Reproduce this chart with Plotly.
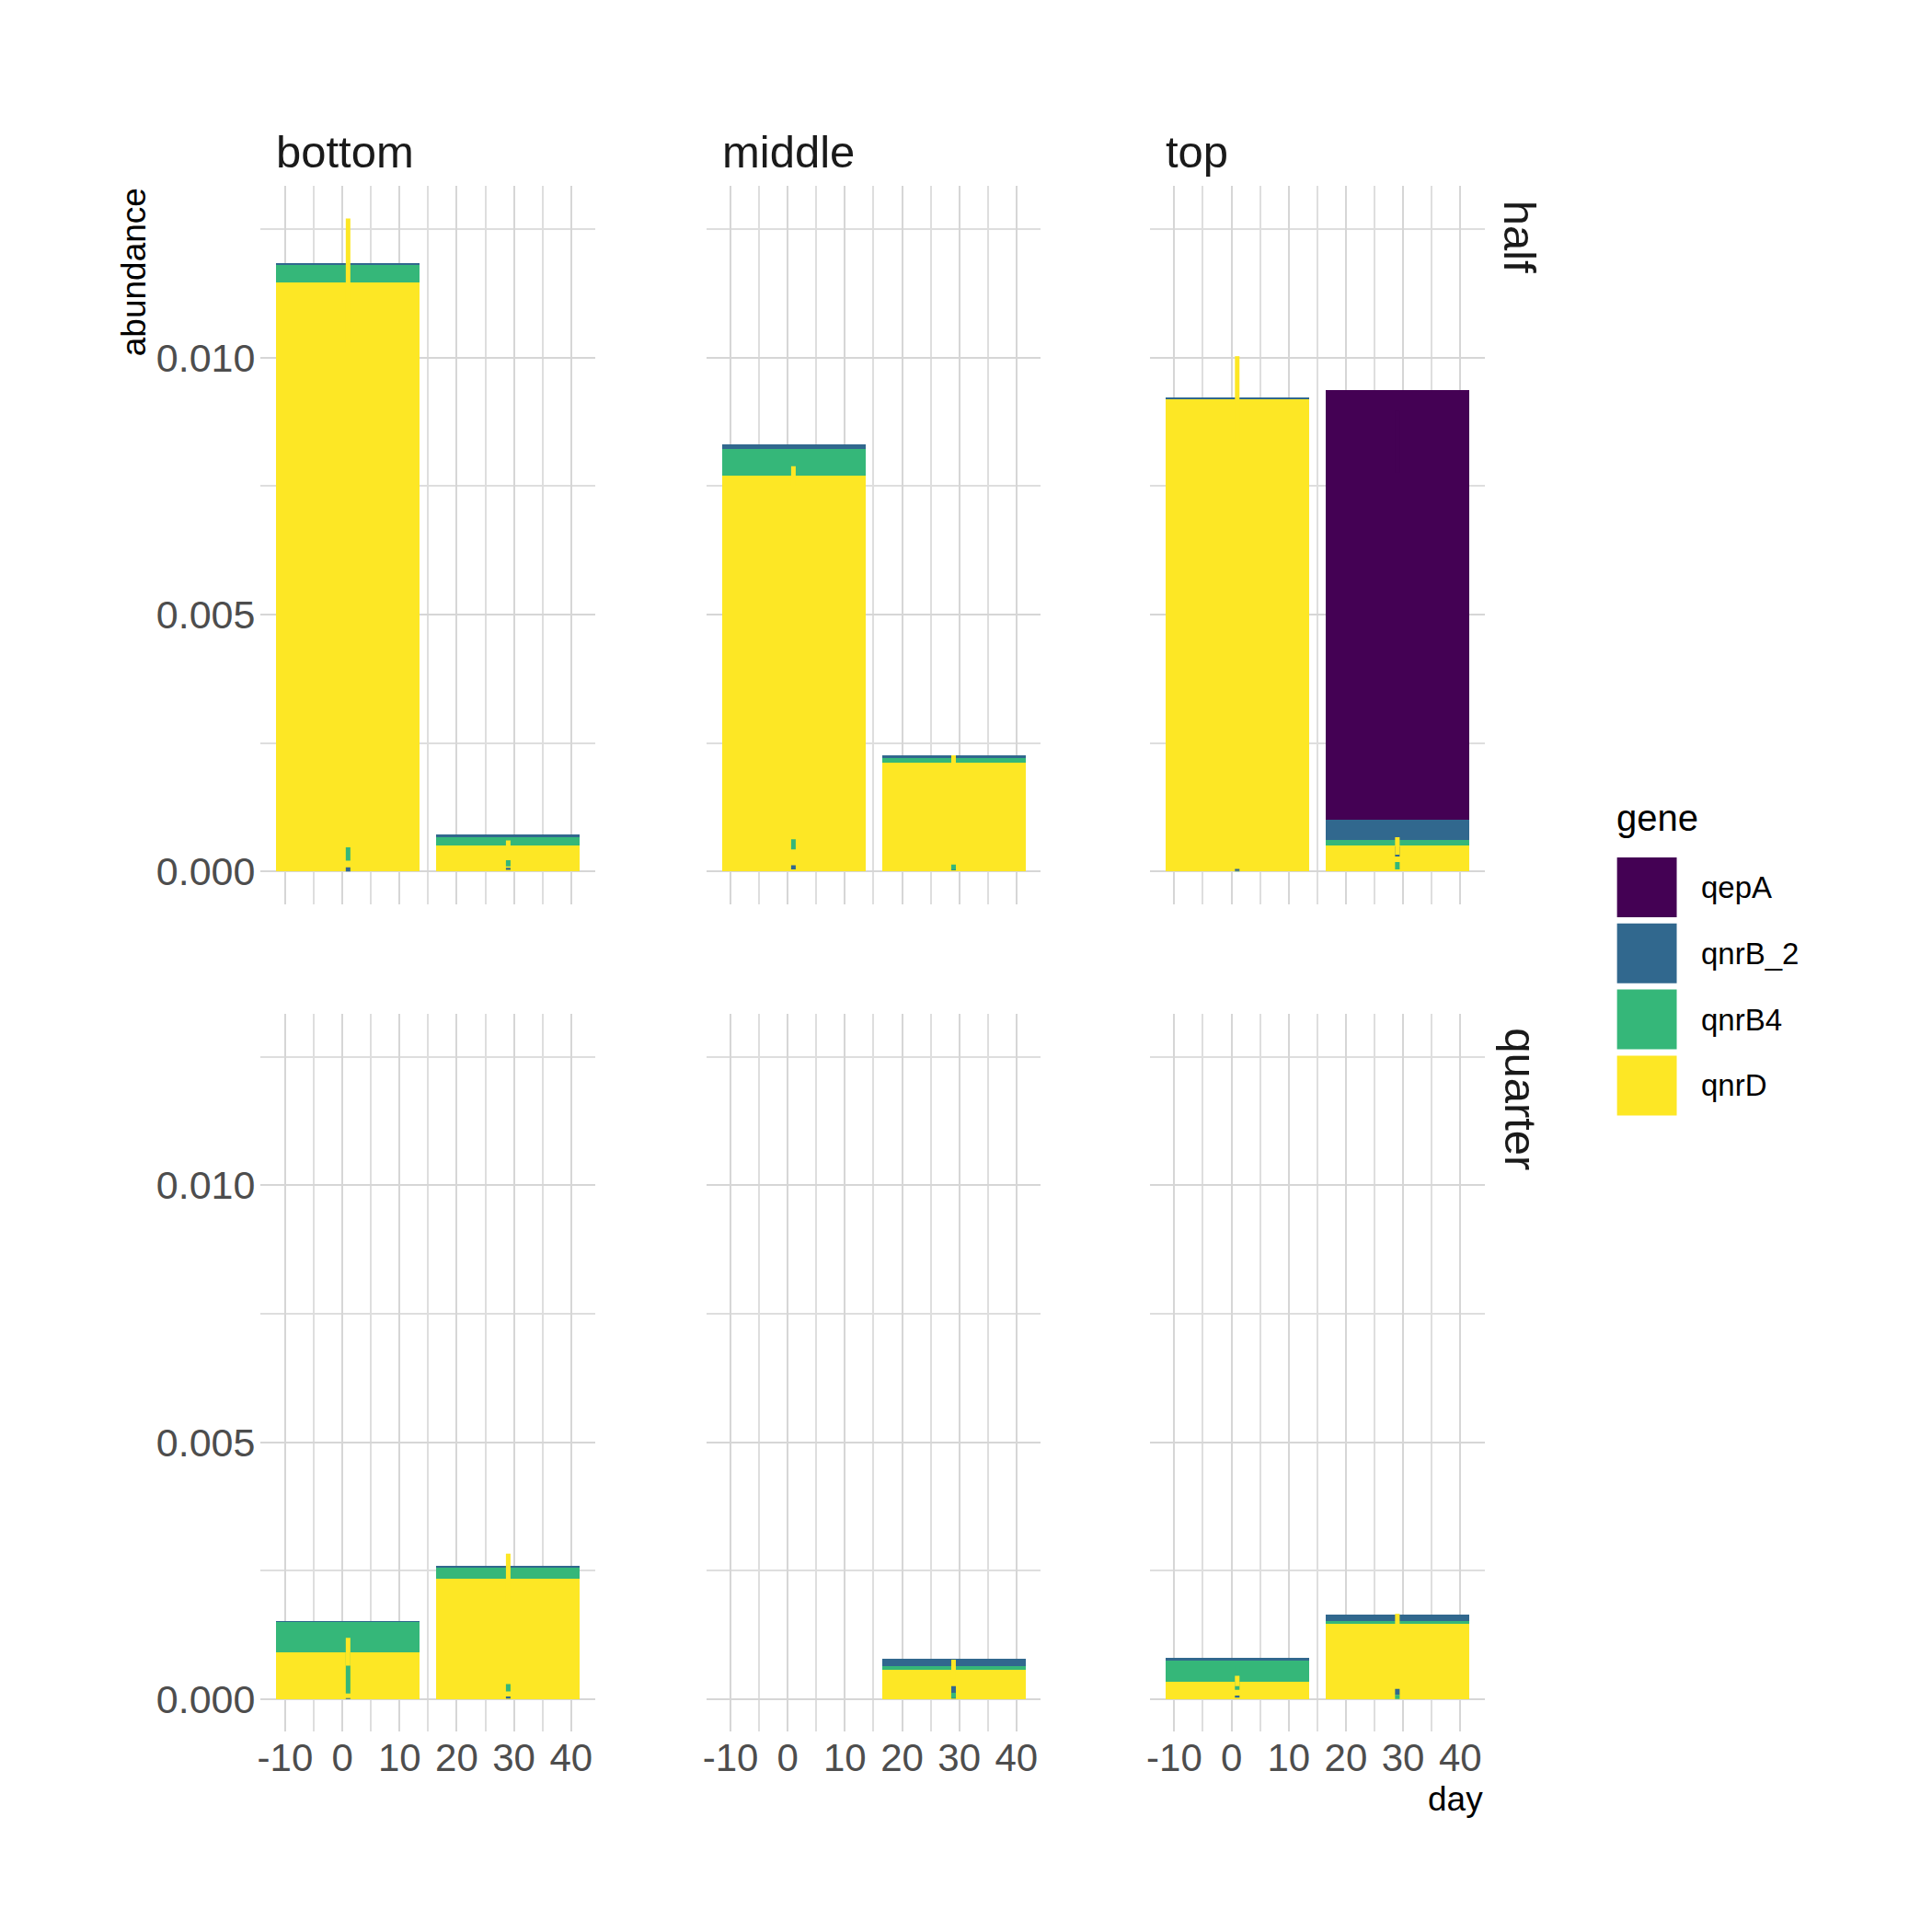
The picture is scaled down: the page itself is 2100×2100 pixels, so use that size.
import plotly.graph_objects as go

# ---------------- data ----------------
genes = ["qepA", "qnrB_2", "qnrB4", "qnrD"]
gene_colors = ["#440154", "#31688E", "#35B779", "#FDE725"]
positions = ["bottom", "middle", "top"]
fractions = ["half", "quarter"]

# one entry per (fraction, position, day)
panel_fraction = ["half"] * 6 + ["quarter"] * 6
panel_position = ["bottom", "bottom", "middle", "middle", "top", "top"] * 2
panel_day = [1, 29] * 6

qepA_mean = [None, None, None, None, None, 0.00836,
             None, None, None, None, None, None]
qepA_se = [None, None, None, None, None, 0.0006,
           None, None, None, None, None, None]

qnrB_2_mean = [0.00004, 0.000054, 0.00008, 0.000065, 0.00003, 0.000394,
               0.00001, 0.00003, None, 0.00013, 0.000048, 0.00014]
qnrB_2_se = [0.00004, 0.00002, 0.00004, 0.00004, 0.00002, 0.0001,
             0.00001, 0.00002, None, 0.00012, 0.00002, 0.00006]

qnrB4_mean = [0.00034, 0.00016, 0.00053, 0.000084, 0.000004, 0.000113,
              0.00059, 0.00022, None, 0.00007, 0.000412, 0.00004]
qnrB4_se = [0.00013, 0.00006, 0.0001, 0.00005, 0.000003, 0.00007,
            0.00048, 0.00007, None, 0.00005, 0.00023, 0.00004]

qnrD_mean = [0.01146, 0.000507, 0.0077, 0.00212, 0.0092, 0.0005,
             0.00092, 0.00236, None, 0.000585, 0.000352, 0.00148]
qnrD_se = [0.00125, 0.0001, 0.00019, 0.00014, 0.00083, 0.00017,
           0.00027, 0.00047, None, 0.00018, 0.0001, 0.00018]

x_tick_values = [-10, 0, 10, 20, 30, 40]
x_tick_labels = ["-10", "0", "10", "20", "30", "40"]
y_tick_values = [0.0, 0.005, 0.010]
y_tick_labels = ["0.000", "0.005", "0.010"]

gene_means = {"qepA": qepA_mean, "qnrB_2": qnrB_2_mean, "qnrB4": qnrB4_mean, "qnrD": qnrD_mean}
gene_ses = {"qepA": qepA_se, "qnrB_2": qnrB_2_se, "qnrB4": qnrB4_se, "qnrD": qnrD_se}

# ---------------- layout geometry (pixels in a 2100 canvas) ----------------
W = H = 2100
col_left = [280.0, 765.0, 1248.3]
col_w = 364.5
row_top = [202.0, 1101.5]
row_h = 780.8
bar_width = 0.9 * 28

FONT = "Liberation Sans, Arial, sans-serif"

def px_x(p):
    return p / W

def px_y(p):
    return 1 - p / H

# axis ranges from data (ggplot-like 5% expansion)
tops = []
for g in genes:
    for m, s in zip(gene_means[g], gene_ses[g]):
        if m is not None:
            tops.append(m + s)
ymax = max(tops)
yrange = [-0.05 * ymax, 1.05 * ymax]
xlo = min(panel_day) - bar_width / 2
xhi = max(panel_day) + bar_width / 2
xpad = 0.05 * (xhi - xlo)
xrange = [xlo - xpad, xhi + xpad]

fig = go.Figure()
layout = dict(
    width=W, height=H,
    margin=dict(l=0, r=0, t=0, b=0),
    paper_bgcolor="white", plot_bgcolor="white",
    barmode="stack", bargap=0, showlegend=False,
    font=dict(family=FONT),
)

grid_major = "#D6D6D6"
grid_minor = "#DEDEDE"

for r, frac in enumerate(fractions):
    for c, pos in enumerate(positions):
        k = r * 3 + c + 1
        xa = "x" if k == 1 else f"x{k}"
        ya = "y" if k == 1 else f"y{k}"
        xkey = "xaxis" if k == 1 else f"xaxis{k}"
        ykey = "yaxis" if k == 1 else f"yaxis{k}"
        layout[xkey] = dict(
            domain=[px_x(col_left[c]), px_x(col_left[c] + col_w)],
            anchor=ya, range=xrange, showline=False, zeroline=False,
            tickmode="array", tickvals=x_tick_values, ticktext=x_tick_labels,
            showticklabels=(r == 1), ticks="",
            tickfont=dict(size=42, color="#4D4D4D", family=FONT),
            showgrid=True, gridcolor=grid_major, gridwidth=2,
            minor=dict(tickmode="linear", dtick=5, tick0=0, showgrid=True, gridcolor=grid_minor, gridwidth=1.6),
            fixedrange=True,
        )
        layout[ykey] = dict(
            domain=[px_y(row_top[r] + row_h), px_y(row_top[r])],
            anchor=xa, range=yrange, showline=False, zeroline=False,
            tickmode="array", tickvals=y_tick_values, ticktext=y_tick_labels,
            showticklabels=(c == 0), ticks="", ticklabelstandoff=5,
            tickfont=dict(size=43, color="#4D4D4D", family=FONT),
            showgrid=True, gridcolor=grid_major, gridwidth=2,
            minor=dict(tickmode="linear", dtick=0.0025, tick0=0, showgrid=True, gridcolor=grid_minor, gridwidth=1.6),
            fixedrange=True,
        )
        idx = [i for i in range(len(panel_day)) if panel_fraction[i] == frac and panel_position[i] == pos]
        days = [panel_day[i] for i in idx]
        # stacked bars: bottom of stack is the last gene
        for g in reversed(genes):
            col = gene_colors[genes.index(g)]
            fig.add_trace(go.Bar(
                x=days, y=[gene_means[g][i] for i in idx], width=bar_width,
                marker=dict(color=col, line=dict(width=0)),
                xaxis=xa, yaxis=ya, name=g, showlegend=False,
            ))
        # error ranges (unstacked)
        for g in genes:
            col = gene_colors[genes.index(g)]
            fig.add_trace(go.Scatter(
                x=days, y=[gene_means[g][i] for i in idx], mode="markers",
                marker=dict(size=0.1, color=col),
                error_y=dict(type="data", array=[gene_ses[g][i] for i in idx],
                             color=col, thickness=5, width=0, visible=True),
                xaxis=xa, yaxis=ya, showlegend=False, hoverinfo="skip",
            ))

annotations = []
# column strip labels
for c, pos in enumerate(positions):
    annotations.append(dict(
        text=pos, xref="paper", yref="paper", x=px_x(col_left[c] + 15), y=px_y(165),
        xanchor="left", yanchor="middle", showarrow=False,
        font=dict(size=49, color="#1A1A1A", family=FONT)))
# row strip labels
for r, frac in enumerate(fractions):
    annotations.append(dict(
        text=frac, xref="paper", yref="paper", x=px_x(1652), y=px_y(row_top[r] + 14),
        xanchor="center", yanchor="top", textangle=90, showarrow=False,
        font=dict(size=49, color="#1A1A1A", family=FONT)))
# axis titles
annotations.append(dict(
    text="abundance", xref="paper", yref="paper", x=px_x(142), y=px_y(202),
    xanchor="center", yanchor="top", textangle=-90, showarrow=False,
    font=dict(size=37, color="black", family=FONT)))
annotations.append(dict(
    text="day", xref="paper", yref="paper", x=px_x(col_left[2] + col_w), y=px_y(1955),
    xanchor="right", yanchor="middle", showarrow=False,
    font=dict(size=37, color="black", family=FONT)))

# legend (drawn manually to get ggplot-sized keys)
shapes = []
annotations.append(dict(
    text="gene", xref="paper", yref="paper", x=px_x(1754), y=px_y(889),
    xanchor="left", yanchor="middle", showarrow=False,
    font=dict(size=40, color="black", family=FONT)))
key_top = 932
key_step = 71.8
key_size = 65
for i, g in enumerate(genes):
    t = key_top + i * key_step
    shapes.append(dict(
        type="rect", xref="paper", yref="paper",
        x0=px_x(1757), x1=px_x(1757 + key_size), y0=px_y(t + key_size), y1=px_y(t),
        fillcolor=gene_colors[i], line=dict(width=0)))
    annotations.append(dict(
        text=g, xref="paper", yref="paper", x=px_x(1847), y=px_y(t + key_size / 2),
        xanchor="left", yanchor="middle", showarrow=False,
        font=dict(size=33, color="black", family=FONT)))

layout["annotations"] = annotations
layout["shapes"] = shapes
fig.update_layout(**layout)
fig.write_html("out.html")
